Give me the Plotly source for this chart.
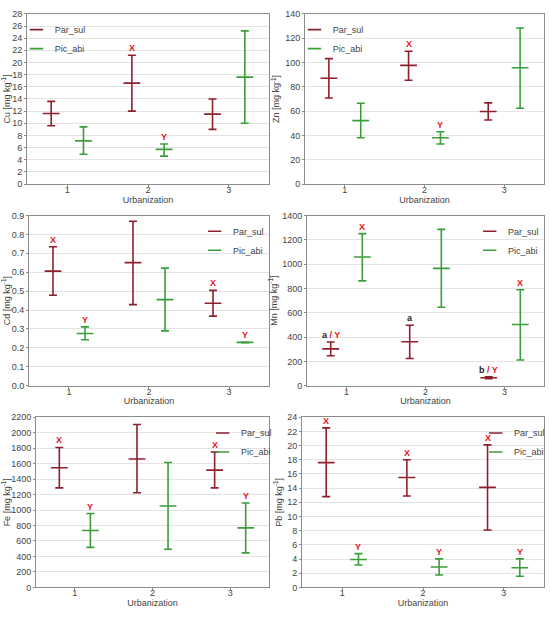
import plotly.graph_objects as go

categories = [1, 2, 3]
series_names = ["Par_sul", "Pic_abi"]
x_tick_labels = ["1", "2", "3"]

# ---- Cu ----
cu_par_mean = [11.6, 16.6, 11.5]
cu_par_hi = [13.6, 21.2, 14.0]
cu_par_lo = [9.6, 12.0, 9.0]
cu_pic_mean = [7.1, 5.7, 17.6]
cu_pic_hi = [9.4, 6.6, 25.2]
cu_pic_lo = [4.9, 4.6, 10.0]
cu_par_lbl = ["", "X", ""]
cu_pic_lbl = ["", "Y", ""]

# ---- Zn ----
zn_par_mean = [87.0, 97.6, 59.7]
zn_par_hi = [103.2, 109.2, 66.8]
zn_par_lo = [70.8, 85.4, 52.7]
zn_pic_mean = [52.2, 38.1, 95.7]
zn_pic_hi = [66.5, 43.0, 128.4]
zn_pic_lo = [38.1, 33.0, 62.4]
zn_par_lbl = ["", "X", ""]
zn_pic_lbl = ["", "Y", ""]

# ---- Cd ----
cd_par_mean = [0.606, 0.651, 0.436]
cd_par_hi = [0.735, 0.870, 0.504]
cd_par_lo = [0.478, 0.429, 0.368]
cd_pic_mean = [0.276, 0.455, 0.229]
cd_pic_hi = [0.311, 0.622, 0.230]
cd_pic_lo = [0.243, 0.290, 0.228]
cd_par_lbl = ["X", "", "X"]
cd_pic_lbl = ["Y", "", "Y"]

# ---- Mn ----
mn_par_mean = [303, 362, 65]
mn_par_hi = [359, 497, 73]
mn_par_lo = [246, 224, 57]
mn_pic_mean = [1059, 965, 503]
mn_pic_hi = [1251, 1286, 789]
mn_pic_lo = [862, 646, 211]
mn_par_lbl = ["a<span style='color:#e8101a'> / Y</span>", "a", "b<span style='color:#e8101a'> / Y</span>"]
mn_pic_lbl = ["X", "", "X"]

# ---- Fe ----
fe_par_mean = [1546, 1660, 1516]
fe_par_hi = [1809, 2106, 1750]
fe_par_lo = [1287, 1223, 1287]
fe_pic_mean = [735, 1053, 769]
fe_pic_hi = [955, 1614, 1091]
fe_pic_lo = [518, 493, 446]
fe_par_lbl = ["X", "", "X"]
fe_pic_lbl = ["Y", "", "Y"]

# ---- Pb ----
pb_par_mean = [17.6, 15.5, 14.1]
pb_par_hi = [22.5, 18.0, 20.1]
pb_par_lo = [12.8, 12.9, 8.1]
pb_pic_mean = [3.94, 2.87, 2.78]
pb_pic_hi = [4.77, 4.03, 4.03]
pb_pic_lo = [3.15, 1.76, 1.58]
pb_par_lbl = ["X", "X", "X"]
pb_pic_lbl = ["Y", "Y", "Y"]

panels = [
    dict(title="Cu [mg kg<sup>-1</sup>]", rng=[0, 28], dtick=2, fmt="d",
         par=(cu_par_mean, cu_par_hi, cu_par_lo, cu_par_lbl),
         pic=(cu_pic_mean, cu_pic_hi, cu_pic_lo, cu_pic_lbl),
         xd=[0.0491, 0.4891], yd=[0.705, 0.9854], leg=("left", 0.0541)),
    dict(title="Zn [mg kg<sup>-1</sup>]", rng=[0, 140], dtick=20, fmt="d",
         par=(zn_par_mean, zn_par_hi, zn_par_lo, zn_par_lbl),
         pic=(zn_pic_mean, zn_pic_hi, zn_pic_lo, zn_pic_lbl),
         xd=[0.5545, 0.9891], yd=[0.705, 0.9854], leg=("left", 0.5595)),
    dict(title="Cd [mg kg<sup>-1</sup>]", rng=[0, 0.9], dtick=0.1, fmt=".1f",
         par=(cd_par_mean, cd_par_hi, cd_par_lo, cd_par_lbl),
         pic=(cd_pic_mean, cd_pic_hi, cd_pic_lo, cd_pic_lbl),
         xd=[0.0527, 0.4891], yd=[0.3728, 0.6532], leg=("right", 0.4891)),
    dict(title="Mn [mg kg<sup>-1</sup>]", rng=[0, 1400], dtick=200, fmt="d",
         par=(mn_par_mean, mn_par_hi, mn_par_lo, mn_par_lbl),
         pic=(mn_pic_mean, mn_pic_hi, mn_pic_lo, mn_pic_lbl),
         xd=[0.5582, 0.9891], yd=[0.3728, 0.6532], leg=("right", 0.9891)),
    dict(title="Fe [mg kg<sup>-1</sup>]", rng=[0, 2200], dtick=200, fmt="d",
         par=(fe_par_mean, fe_par_hi, fe_par_lo, fe_par_lbl),
         pic=(fe_pic_mean, fe_pic_hi, fe_pic_lo, fe_pic_lbl),
         xd=[0.0655, 0.4891], yd=[0.0405, 0.3209], leg=("right", 0.5036)),
    dict(title="Pb [mg kg<sup>-1</sup>]", rng=[0, 24], dtick=2, fmt="d",
         par=(pb_par_mean, pb_par_hi, pb_par_lo, pb_par_lbl),
         pic=(pb_pic_mean, pb_pic_hi, pb_pic_lo, pb_pic_lbl),
         xd=[0.5491, 0.9891], yd=[0.0405, 0.3209], leg=("right", 1.0)),
]

colors = {"Par_sul": "#8e1f2c", "Pic_abi": "#3a9e3a"}
offsets = {"Par_sul": -0.2, "Pic_abi": 0.2}
LBL_RED = "#e8101a"
FONT = "Liberation Sans, Arial, sans-serif"

fig = go.Figure()
annotations = []
layout = {}

for i, p in enumerate(panels):
    n = i + 1
    xa = "x" if n == 1 else f"x{n}"
    ya = "y" if n == 1 else f"y{n}"
    legname = "legend" if n == 1 else f"legend{n}"
    for name, key in (("Par_sul", "par"), ("Pic_abi", "pic")):
        mean, hi, lo, lbl = p[key]
        xs = [c + offsets[name] for c in categories]
        fig.add_trace(go.Scatter(
            x=xs, y=mean, mode="markers", name=name,
            xaxis=xa, yaxis=ya, legend=legname,
            marker=dict(symbol="line-ew", size=12, color=colors[name],
                        line=dict(width=1.6, color=colors[name])),
            error_y=dict(type="data", symmetric=False,
                         array=[h - m for h, m in zip(hi, mean)],
                         arrayminus=[m - l for m, l in zip(mean, lo)],
                         color=colors[name], thickness=1.6, width=4),
        ))
        for xv, top, t in zip(xs, hi, lbl):
            if t:
                col = "#222222" if (name == "Par_sul" and n == 4) else LBL_RED
                annotations.append(dict(
                    x=xv, y=top, xref=xa, yref=ya, text=f"<b>{t}</b>",
                    showarrow=False, yanchor="bottom", yshift=0,
                    font=dict(size=9, color=col, family=FONT)))
    axis_common = dict(showline=True, mirror=True, linecolor="#8c8c8c", linewidth=1,
                       tickfont=dict(size=9, color="#444444", family=FONT),
                       ticks="outside", ticklen=2, tickcolor="#8c8c8c")
    layout["xaxis" if n == 1 else f"xaxis{n}"] = dict(
        domain=p["xd"], anchor=ya, range=[0.5, 3.5],
        tickvals=categories, ticktext=x_tick_labels, showgrid=False, zeroline=False,
        ticklabelstandoff=-5,
        title=dict(text="Urbanization", font=dict(size=9, color="#444444", family=FONT), standoff=2),
        **axis_common)
    layout["yaxis" if n == 1 else f"yaxis{n}"] = dict(
        domain=p["yd"], anchor=xa, range=p["rng"], dtick=p["dtick"], tick0=0,
        tickformat=p["fmt"], showgrid=True, gridcolor="#e3e3e3", gridwidth=1, zeroline=False,
        title=dict(text=p["title"], font=dict(size=9, color="#444444", family=FONT), standoff=3),
        **axis_common)
    side, lx = p["leg"]
    layout[legname] = dict(
        x=lx, y=p["yd"][1] - 0.002, xanchor=side, yanchor="top",
        xref="paper", yref="paper", bgcolor="rgba(0,0,0,0)",
        font=dict(size=9, color="#444444", family=FONT),
        itemwidth=30, tracegroupgap=0, indentation=-15)

fig.update_layout(
    width=550, height=617, margin=dict(l=0, r=0, t=0, b=0),
    paper_bgcolor="white", plot_bgcolor="white",
    font=dict(family=FONT, size=9, color="#444444"),
    annotations=annotations, **layout)

fig.write_html("out.html", config={"displayModeBar": False},
               post_script="document.body.style.margin='0px';")
